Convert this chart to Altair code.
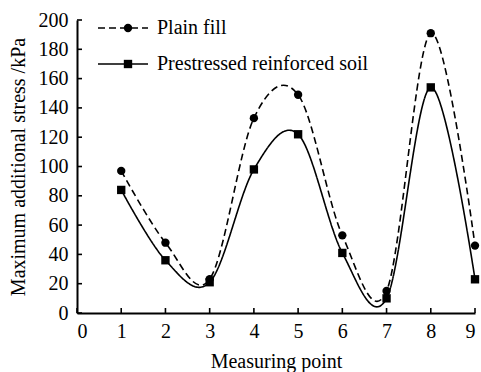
import altair as alt
import pandas as pd

points = [1, 2, 3, 4, 5, 6, 7, 8, 9]
plain_fill = [97, 48, 23, 133, 149, 53, 15, 191, 46]
prestressed = [84, 36, 21, 98, 122, 41, 10, 154, 23]
series_names = ["Plain fill", "Prestressed reinforced soil"]
marker_names = ["circle marker", "square marker"]
x_ticks = [0, 1, 2, 3, 4, 5, 6, 7, 8, 9]
y_ticks = [0, 20, 40, 60, 80, 100, 120, 140, 160, 180, 200]

rows = []
for p, a, b in zip(points, plain_fill, prestressed):
    rows.append({"point": p, "value": a, "series": series_names[0], "marker": marker_names[0]})
    rows.append({"point": p, "value": b, "series": series_names[1], "marker": marker_names[1]})
df = pd.DataFrame(rows)

W, H = 398, 293
FONT = "serif"

xs = alt.Scale(domain=[0, 9], nice=False)
ys = alt.Scale(domain=[0, 200], nice=False)

x_axis = alt.Axis(values=x_ticks, title="Measuring point", ticks=False,
                  grid=False, labelPadding=8, titlePadding=10, format="d",
                  labelOverlap=False, labelFont=FONT, titleFont=FONT,
                  labelFontSize=20, titleFontSize=20, titleFontWeight="normal",
                  labelColor="black", titleColor="black",
                  domainColor="black", domainWidth=2)
y_axis = alt.Axis(values=y_ticks, title="Maximum additional stress /kPa",
                  ticks=False, grid=False, labelPadding=9, titlePadding=10,
                  format="d", labelOverlap=False, labelFont=FONT, titleFont=FONT,
                  labelFontSize=20, titleFontSize=20, titleFontWeight="normal",
                  labelColor="black", titleColor="black",
                  domainColor="black", domainWidth=2)

dash_scale = alt.Scale(domain=series_names, range=[[7, 4], [1, 0]])

lines = alt.Chart(df).mark_line(interpolate="cardinal", color="black", strokeWidth=1.6).encode(
    x=alt.X("point:Q", scale=xs, axis=x_axis),
    y=alt.Y("value:Q", scale=ys, axis=y_axis),
    strokeDash=alt.StrokeDash(
        "series:N", scale=dash_scale,
        legend=alt.Legend(title=None, orient="none", legendX=20, legendY=-18,
                          symbolType="stroke", symbolSize=2500, symbolStrokeWidth=1.6,
                          symbolStrokeColor="black",
                          labelFont=FONT, labelFontSize=20, labelColor="black",
                          labelOffset=8, labelLimit=0, rowPadding=-8, padding=0)),
)

markers = alt.Chart(df).mark_point(filled=True, color="black", opacity=1).encode(
    x=alt.X("point:Q", scale=xs, axis=x_axis),
    y=alt.Y("value:Q", scale=ys, axis=y_axis),
    shape=alt.Shape(
        "marker:N", scale=alt.Scale(domain=marker_names, range=["circle", "square"]),
        legend=alt.Legend(title=None, orient="none", legendX=41, legendY=-2,
                          symbolSize=70, symbolFillColor="black", symbolStrokeWidth=0,
                          labelFont=FONT, labelFontSize=20, labelColor="black",
                          labelExpr="' '", labelOffset=8, labelLimit=0,
                          rowPadding=16, padding=0)),
    size=alt.value(70),
)

tick_df = pd.DataFrame({"point": x_ticks})
ytick_df = pd.DataFrame({"value": y_ticks})
xticks = alt.Chart(tick_df).mark_rule(color="black", strokeWidth=1.6).encode(
    x=alt.X("point:Q", scale=xs, axis=x_axis), y=alt.value(H), y2=alt.value(H - 5))
yticks = alt.Chart(ytick_df).mark_rule(color="black", strokeWidth=1.6).encode(
    y=alt.Y("value:Q", scale=ys, axis=y_axis), x=alt.value(0), x2=alt.value(5))

chart = alt.layer(lines, markers, xticks, yticks).properties(
    width=W, height=H,
    autosize=alt.AutoSizeParams(type="none"),
    padding={"left": 77, "top": 20, "right": 6, "bottom": 59},
).configure_view(stroke=None)

chart.save("out.html", embed_options={"renderer": "svg", "actions": False})
